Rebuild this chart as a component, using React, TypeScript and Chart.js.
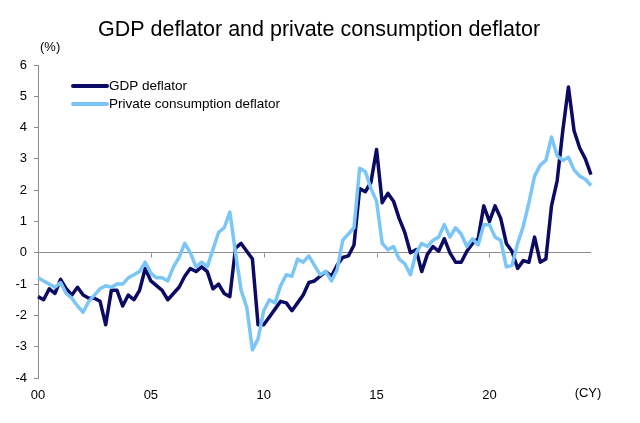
import React, { useEffect, useRef } from "react";
import { Chart, registerables } from "chart.js";

Chart.register(...registerables);

// Quarterly categories 2000Q1 .. 2024Q3
const startYear = 2000;
const quarterCount = 99;
const categories: string[] = [];
for (let i = 0; i < quarterCount; i++) {
  categories.push(`${startYear + Math.floor(i / 4)}Q${(i % 4) + 1}`);
}

const yearTickLabels = ["00", "05", "10", "15", "20"];
const yTicks = [-4, -3, -2, -1, 0, 1, 2, 3, 4, 5, 6];

const gdpDeflator = [
  -1.4, -1.5, -1.15, -1.3, -0.85, -1.15, -1.35, -1.1, -1.35, -1.45,
  -1.45, -1.55, -2.3, -1.2, -1.2, -1.7, -1.35, -1.5, -1.2, -0.5,
  -0.9, -1.05, -1.2, -1.5, -1.3, -1.1, -0.75, -0.5, -0.6, -0.45,
  -0.6, -1.15, -1.0, -1.3, -1.4, 0.15, 0.3, 0.05, -0.2, -2.3,
  -2.3, -2.05, -1.8, -1.55, -1.6, -1.85, -1.6, -1.35, -0.95, -0.9,
  -0.75, -0.6, -0.75, -0.4, -0.15, -0.1, 0.25, 2.05, 1.95, 2.25,
  3.3, 1.6, 1.9, 1.65, 1.1, 0.65, 0.0, 0.1, -0.6, -0.05,
  0.2, 0.05, 0.45, 0.0, -0.3, -0.3, 0.05, 0.3, 0.45, 1.5,
  1.0, 1.5, 1.1, 0.3, 0.05, -0.5, -0.25, -0.3, 0.5, -0.3,
  -0.2, 1.5, 2.3, 3.9, 5.3, 3.9, 3.35, 3.0, 2.5,
];

const privateConsumptionDeflator = [
  -0.8, -0.9, -1.0, -1.1, -0.95, -1.3, -1.45, -1.7, -1.9, -1.55,
  -1.35, -1.15, -1.05, -1.1, -1.0, -1.0, -0.8, -0.7, -0.6, -0.3,
  -0.65, -0.8, -0.8, -0.9, -0.45, -0.15, 0.3, 0.0, -0.45, -0.3,
  -0.45, 0.1, 0.65, 0.8, 1.3, 0.0, -1.2, -1.75, -3.1, -2.75,
  -1.85, -1.5, -1.6, -1.05, -0.7, -0.75, -0.2, -0.3, -0.1, -0.4,
  -0.7, -0.6, -0.9, -0.55, 0.4, 0.6, 0.8, 2.7, 2.6, 2.05,
  1.65, 0.3, 0.1, 0.2, -0.2, -0.35, -0.7, 0.0, 0.3, 0.2,
  0.4, 0.5, 0.9, 0.5, 0.8, 0.6, 0.2, 0.45, 0.25, 0.9,
  0.9, 0.5, 0.4, -0.45, -0.4, 0.3, 0.85, 1.6, 2.45, 2.8,
  2.95, 3.7, 3.1, 2.95, 3.05, 2.65, 2.45, 2.35, 2.15,
];

const seriesNames = ["GDP deflator", "Private consumption deflator"];
const seriesColors = ["#0B0B64", "#7BC6F7"];
const titleText = "GDP deflator and private consumption deflator";
const yUnit = "(%)";
const xUnit = "(CY)";

const FONT = '"Liberation Sans", Arial, Helvetica, sans-serif';
const AXIS_COLOR = "#8C8C8C";

const decorPlugin = {
  id: "decor",
  afterDraw(chart: any) {
    const { ctx, chartArea, scales } = chart;
    const x = scales.x;
    const y = scales.y;
    ctx.save();
    // title
    ctx.fillStyle = "#000";
    ctx.font = `21.5px ${FONT}`;
    ctx.textAlign = "center";
    ctx.textBaseline = "alphabetic";
    ctx.fillText(titleText, 319, 36);
    // tick marks on zero line at each year label
    const y0 = Math.round(y.getPixelForValue(0)) + 0.5;
    ctx.strokeStyle = AXIS_COLOR;
    ctx.lineWidth = 1;
    for (let i = 0; i < categories.length; i += 20) {
      const px = Math.round(x.getPixelForValue(i)) + 0.5;
      ctx.beginPath();
      ctx.moveTo(px, y0);
      ctx.lineTo(px, y0 + 4);
      ctx.stroke();
    }
    // unit labels
    ctx.fillStyle = "#000";
    ctx.font = `13px ${FONT}`;
    ctx.textBaseline = "middle";
    ctx.textAlign = "left";
    ctx.fillText(yUnit, chartArea.left + 2, chartArea.top - 18);
    ctx.textAlign = "center";
    ctx.fillText(xUnit, chartArea.right - 3, chartArea.bottom + 15);
    // legend
    ctx.font = `13.5px ${FONT}`;
    ctx.textAlign = "left";
    chart.data.datasets.forEach((ds: any, k: number) => {
      const ly = chartArea.top + 21 + k * 18;
      ctx.strokeStyle = ds.borderColor;
      ctx.lineWidth = 4;
      ctx.lineCap = "round";
      ctx.beginPath();
      ctx.moveTo(chartArea.left + 35, ly);
      ctx.lineTo(chartArea.left + 69, ly);
      ctx.stroke();
      ctx.fillStyle = "#000";
      ctx.fillText(ds.label, chartArea.left + 71, ly);
    });
    ctx.restore();
  },
};

export default function App() {
  const canvasRef = useRef<HTMLCanvasElement | null>(null);

  useEffect(() => {
    const canvas = canvasRef.current;
    if (!canvas) return;
    const chart = new Chart(canvas, {
      type: "line",
      data: {
        labels: categories,
        datasets: [
          {
            label: seriesNames[0],
            data: gdpDeflator,
            borderColor: seriesColors[0],
            backgroundColor: seriesColors[0],
            borderWidth: 3.5,
            pointRadius: 0,
            tension: 0,
            borderJoinStyle: "round",
            order: 2,
          },
          {
            label: seriesNames[1],
            data: privateConsumptionDeflator,
            borderColor: seriesColors[1],
            backgroundColor: seriesColors[1],
            borderWidth: 3.5,
            pointRadius: 0,
            tension: 0,
            borderJoinStyle: "round",
            order: 1,
          },
        ],
      },
      options: {
        responsive: false,
        animation: false,
        devicePixelRatio: 1,
        layout: { padding: { left: 0, right: 49, top: 65, bottom: 20 } },
        plugins: {
          legend: { display: false },
          tooltip: { enabled: false },
          title: { display: false },
        },
        scales: {
          x: {
            type: "category",
            offset: false,
            grid: { display: false, drawTicks: false },
            border: { display: false },
            ticks: {
              autoSkip: false,
              maxRotation: 0,
              minRotation: 0,
              padding: 10,
              color: "#000",
              font: { family: FONT, size: 13 },
              callback: (_v: any, index: number) =>
                index % 20 === 0 ? yearTickLabels[index / 20] ?? "" : "",
            },
            afterFit: (scale: any) => {
              scale.height = 25;
            },
          },
          y: {
            min: -4,
            max: 6,
            afterBuildTicks: (scale: any) => {
              scale.ticks = yTicks.map((v) => ({ value: v }));
            },
            grid: {
              drawOnChartArea: true,
              drawTicks: true,
              tickLength: 4,
              color: (c: any) => (c.tick && c.tick.value === 0 ? AXIS_COLOR : "rgba(0,0,0,0)"),
              tickColor: AXIS_COLOR,
              lineWidth: 1,
            },
            border: { display: true, color: AXIS_COLOR, width: 1 },
            ticks: {
              padding: 7,
              color: "#000",
              font: { family: FONT, size: 13 },
            },
            afterFit: (scale: any) => {
              scale.width = 38;
            },
          },
        },
      },
      plugins: [decorPlugin],
    });
    return () => chart.destroy();
  }, []);

  return (
    <div style={{ position: "absolute", left: 0, top: 0, width: 640, height: 423, background: "#fff" }}>
      <canvas ref={canvasRef} width={640} height={423} style={{ display: "block" }} />
    </div>
  );
}
